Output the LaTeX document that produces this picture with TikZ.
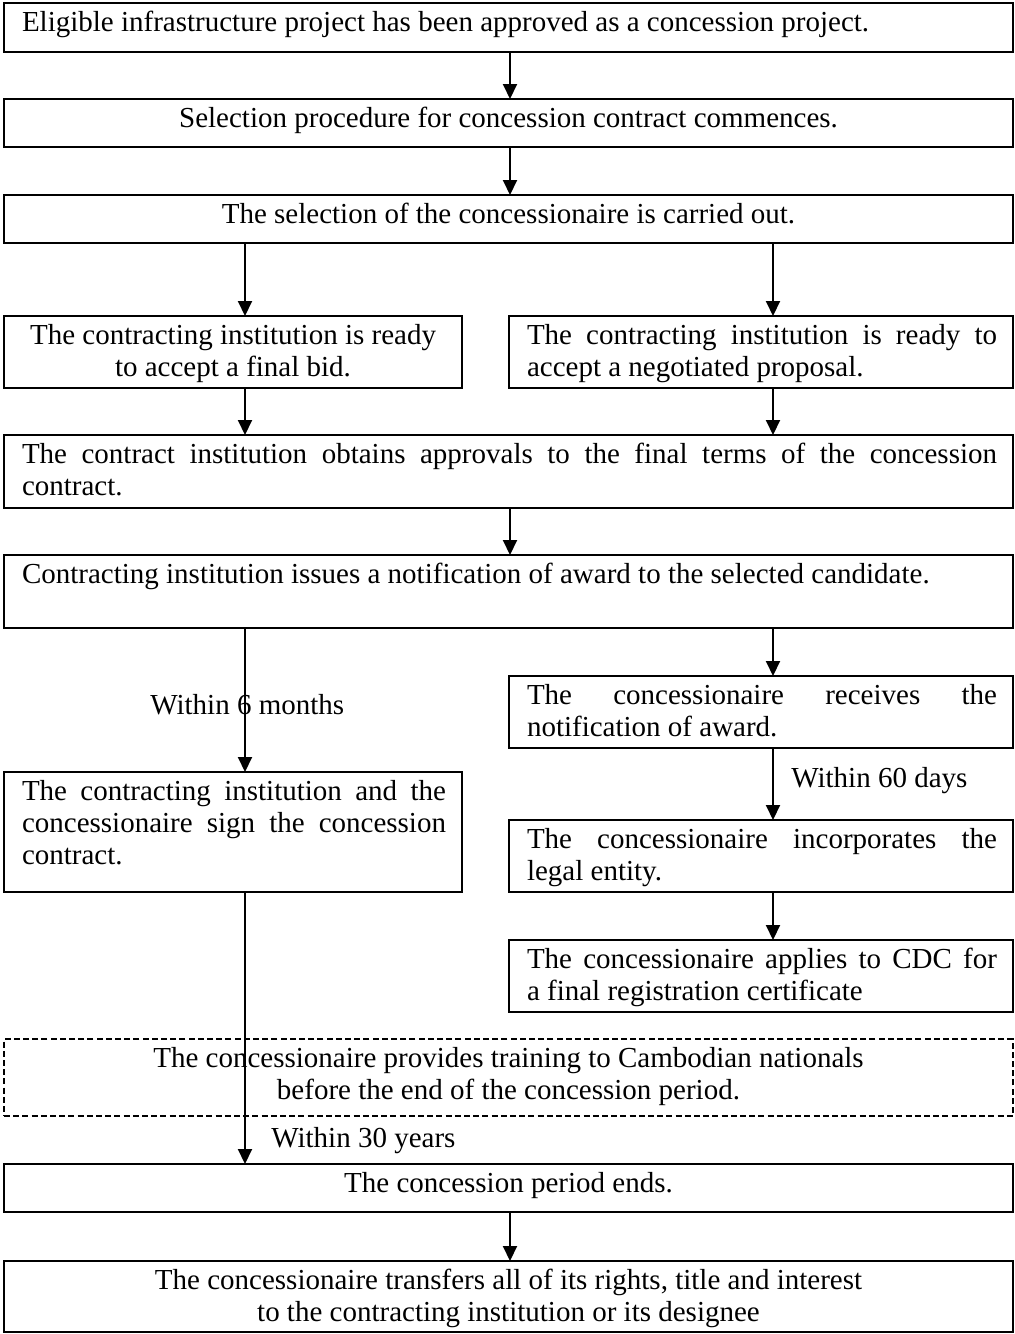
\documentclass[tikz,border=0pt]{standalone}
\usepackage{fontspec}
\setmainfont{Liberation Serif}
\usetikzlibrary{arrows.meta}

% one unit of the drawing grid
\newdimen\pxu \pxu=0.5pt

% body of a box: fixed width and height (in grid units), text set from the top
\newcommand\celltext[4]{%
  \parbox[c][#2\pxu][t]{#1\pxu}{%
    \fontsize{14.5}{16}\selectfont
    \tolerance=10000 \hbadness=10000 \hyphenpenalty=10000
    #3\vspace*{3pt}\strut#4\par}}
\newcommand\justpad{\leftskip=9pt\rightskip=8pt\relax}
\newcommand\centpad{\centering}

\begin{document}
\begin{tikzpicture}[x=0.5pt, y=-0.5pt,
  cell/.style={draw, line width=1pt, inner sep=0pt, outer sep=0pt, anchor=north west},
  dashcell/.style={cell, dash pattern=on 3pt off 1.6pt},
  arr/.style={line width=1pt, -{Triangle[width=7pt,length=7.5pt]}},
  conn/.style={line width=1pt},
  lbl/.style={inner sep=0pt, font=\fontsize{14.5}{16}\selectfont}]

\useasboundingbox (0,0) rectangle (1014,1334);

% columns of the connectors
\coordinate (xm) at (510,0);
\coordinate (xl) at (245,0);
\coordinate (xr) at (773,0);

% main sequence
\node[cell] (b1) at (4,3) {\celltext{1009}{49}{\justpad}{Eligible infrastructure project has been approved as a concession project.}};
\node[cell] (b2) at (4,99) {\celltext{1009}{48}{\centpad}{Selection procedure for concession contract commences.}};
\node[cell] (b3) at (4,195) {\celltext{1009}{48}{\centpad}{The selection of the concessionaire is carried out.}};

% two ways of selection
\node[cell] (bA) at (4,316) {\celltext{458}{72}{\centpad}{The contracting institution is ready\\to accept a final bid.}};
\node[cell] (bB) at (509,316) {\celltext{504}{72}{\justpad}{The contracting institution is ready to\linebreak accept a negotiated proposal.}};

\node[cell] (b4) at (4,435) {\celltext{1009}{73}{\justpad}{The contract institution obtains approvals to the final terms of the concession\linebreak contract.}};
\node[cell] (b5) at (4,555) {\celltext{1009}{73}{\justpad}{Contracting institution issues a notification of award to the selected candidate.}};

% right column
\node[cell] (r1) at (509,676) {\celltext{504}{72}{\justpad}{The concessionaire receives the\linebreak notification of award.}};
\node[cell] (r2) at (509,820) {\celltext{504}{72}{\justpad}{The concessionaire incorporates the\linebreak legal entity.}};
\node[cell] (r3) at (509,940) {\celltext{504}{72}{\justpad}{The concessionaire applies to CDC for\linebreak a final registration certificate}};

% left column
\node[cell] (bL) at (4,772) {\celltext{458}{120}{\justpad}{The contracting institution and the\linebreak concessionaire sign the concession\linebreak contract.}};

% optional obligation
\node[dashcell] (bD) at (4,1039) {\celltext{1009}{77}{\centpad}{The concessionaire provides training to Cambodian nationals\\before the end of the concession period.}};

% end of the concession
\node[cell] (b6) at (4,1164) {\celltext{1009}{48}{\centpad}{The concession period ends.}};
\node[cell] (b7) at (4,1261) {\celltext{1009}{71}{\centpad}{The concessionaire transfers all of its rights, title and interest\\to the contracting institution or its designee}};

% connectors
\draw[arr] (b1.south -| xm) -- (b2.north -| xm);
\draw[arr] (b2.south -| xm) -- (b3.north -| xm);
\draw[arr] (b3.south -| xl) -- (bA.north -| xl);
\draw[arr] (b3.south -| xr) -- (bB.north -| xr);
\draw[arr] (bA.south -| xl) -- (b4.north -| xl);
\draw[arr] (bB.south -| xr) -- (b4.north -| xr);
\draw[arr] (b4.south -| xm) -- (b5.north -| xm);
\draw[arr] (b5.south -| xl) -- (bL.north -| xl);
\draw[arr] (b5.south -| xr) -- (r1.north -| xr);
\draw[arr] (r1.south -| xr) -- (r2.north -| xr);
\draw[arr] (r2.south -| xr) -- (r3.north -| xr);
\draw[arr] (bL.south -| xl) -- (b6.north -| xl);
\draw[arr] (b6.south -| xm) -- (b7.north -| xm);

% time limits
\node[lbl, anchor=base west] (t6m) at (150,714) {Within 6 months};
\node[lbl, anchor=base west] (t60d) at (791,787) {Within 60 days};
\node[lbl, anchor=base west] (t30y) at (271,1147) {Within 30 years};

\end{tikzpicture}
\end{document}
